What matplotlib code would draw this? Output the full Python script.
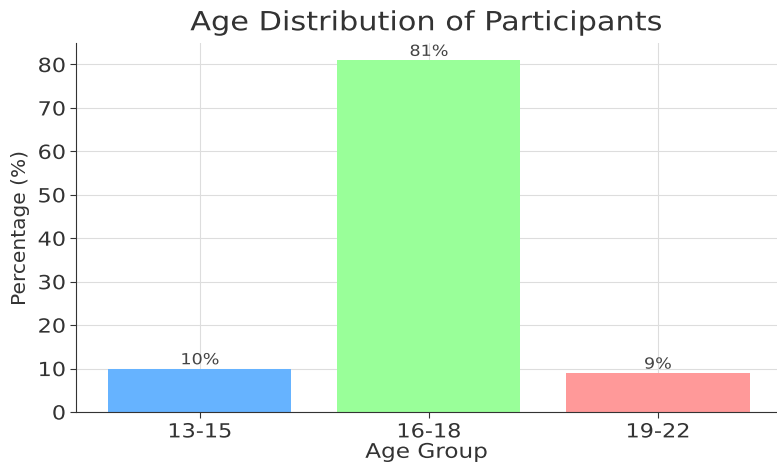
import matplotlib
matplotlib.use("Agg")
import matplotlib.pyplot as plt
from matplotlib.patheffects import AbstractPathEffect
from matplotlib.transforms import Affine2D

categories = ["13-15", "16-18", "19-22"]
values = [10, 81, 9]
colors = ["#66b3ff", "#99ff99", "#ff9999"]


class Stretch(AbstractPathEffect):
    """Stretch glyphs horizontally (reference text is slightly widened)."""
    def __init__(self, s=1.15, anchor="center"):
        super().__init__()
        self.s = s
        self.anchor = anchor

    def draw_path(self, renderer, gc, tpath, affine, rgbFace=None):
        v = tpath.vertices
        if len(v) == 0:
            return
        lo, hi = v[:, 0].min(), v[:, 0].max()
        c = hi if self.anchor == "right" else (lo + hi) / 2
        t = Affine2D().translate(-c, 0).scale(self.s, 1).translate(c, 0)
        renderer.draw_path(gc, tpath, t + affine, rgbFace)


S = 1.15
fig = plt.figure(figsize=(7.77, 4.65), dpi=100)
ax = fig.add_axes([0.098, 0.114, 0.902, 0.794])
bars = ax.bar(categories, values, color=colors, width=0.8, zorder=2)
for b, v in zip(bars, values):
    ax.text(b.get_x() + b.get_width() / 2, v + 0.3, f"{v}%", ha="center", va="bottom",
            fontsize=11, color="#444444", zorder=3,
            path_effects=[Stretch(S)])
ax.set_xlim(-0.54, 2.52)
ax.set_ylim(0, 85)
ax.set_yticks(range(0, 81, 10))
ax.grid(True, color="#dddddd", linewidth=0.8, zorder=0)
ax.spines["top"].set_visible(False)
ax.spines["right"].set_visible(False)
ax.spines["left"].set_color("#333333")
ax.spines["bottom"].set_color("#333333")
ax.tick_params(labelsize=14, colors="#333333", length=4)
for lab in ax.get_xticklabels():
    lab.set_path_effects([Stretch(S)])
for lab in ax.get_yticklabels():
    lab.set_path_effects([Stretch(S, anchor="right")])
ax.set_title("Age Distribution of Participants", fontsize=19, color="#333333", pad=9,
             path_effects=[Stretch(S)])
ax.set_xlabel("Age Group", fontsize=14.5, color="#333333", labelpad=1,
              path_effects=[Stretch(S)])
ax.set_ylabel("Percentage (%)", fontsize=14.5, color="#333333", labelpad=8)
fig.savefig("out.png", dpi=100)
